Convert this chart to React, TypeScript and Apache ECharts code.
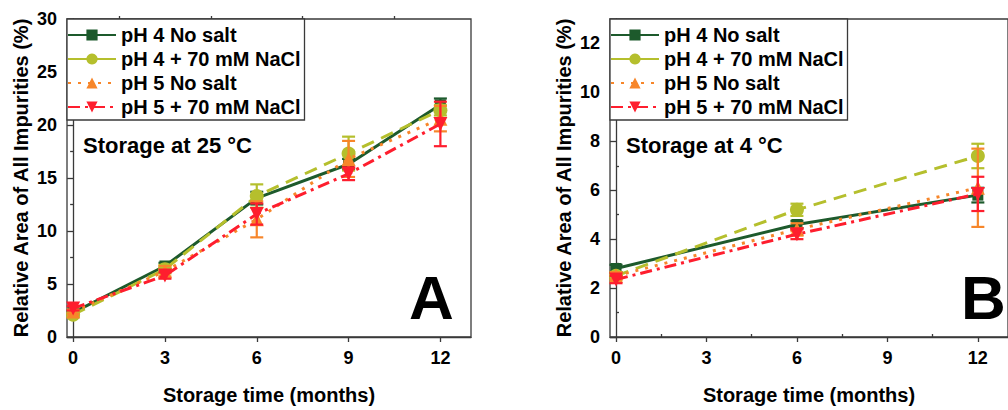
import React, { useEffect, useRef } from "react";
import * as echarts from "echarts";

// ---------- Data ----------
const seriesNames = ["pH 4 No salt", "pH 4 + 70 mM NaCl", "pH 5 No salt", "pH 5 + 70 mM NaCl"];
const colors = ["#1d5a2c", "#b5bf2d", "#f7862a", "#fe1e2e"];

// Panel A: storage at 25 °C
const monthsA = [0, 3, 6, 9, 12];
const pH4NoSaltA = [2.3, 6.7, 13.1, 16.3, 21.9];
const pH4NoSaltErrA = [0.2, 0.3, 0.6, 0.5, 0.6];
const pH4NaClA = [2.1, 6.4, 13.3, 17.3, 21.4];
const pH4NaClErrA = [0.2, 0.4, 1.1, 1.6, 0.5];
const pH5NoSaltA = [2.4, 6.2, 11.1, 16.8, 20.6];
const pH5NoSaltErrA = [0.2, 0.5, 1.7, 1.7, 1.2];
const pH5NaClA = [2.7, 5.8, 11.6, 15.4, 20.1];
const pH5NaClErrA = [0.2, 0.3, 1.0, 0.6, 2.1];

// Panel B: storage at 4 °C
const monthsB = [0, 6, 12];
const pH4NoSaltB = [2.8, 4.6, 5.8];
const pH4NoSaltErrB = [0.15, 0.15, 0.3];
const pH4NaClB = [2.5, 5.2, 7.4];
const pH4NaClErrB = [0.15, 0.25, 0.5];
const pH5NoSaltB = [2.5, 4.4, 6.1];
const pH5NoSaltErrB = [0.15, 0.25, 1.6];
const pH5NaClB = [2.35, 4.2, 5.85];
const pH5NaClErrB = [0.15, 0.2, 0.7];

const xMajorTicks = [0, 3, 6, 9, 12];
const xMinorTicks = [1.5, 4.5, 7.5, 10.5];
const yMajorTicksB = [0, 2, 4, 6, 8, 10, 12];
const yMinorTicksB = [1, 3, 5, 7, 9, 11];

const FONT = "Liberation Sans, Arial, sans-serif";
const AXIS_COLOR = "#3a3a3a";

const invTriangle = "path://M0,0 L10,0 L5,9 Z";
const symbols = ["rect", "circle", "triangle", invTriangle];
const symbolSizes = [11, 14, 14, 14];
const lineTypes: any[] = ["solid", [13, 8], [3, 7], [12, 5, 3, 5]];

export default function App() {
  const ref = useRef<HTMLDivElement>(null);

  useEffect(() => {
    if (!ref.current) return;
    const chart = echarts.init(ref.current, undefined, { renderer: "svg" });

    const panels = [
      {
        months: monthsA,
        vals: [pH4NoSaltA, pH4NaClA, pH5NoSaltA, pH5NaClA],
        errs: [pH4NoSaltErrA, pH4NaClErrA, pH5NoSaltErrA, pH5NaClErrA],
      },
      {
        months: monthsB,
        vals: [pH4NoSaltB, pH4NaClB, pH5NoSaltB, pH5NaClB],
        errs: [pH4NoSaltErrB, pH4NaClErrB, pH5NoSaltErrB, pH5NaClErrB],
      },
    ];

    const series: any[] = [];
    panels.forEach((p, pi) => {
      const xIdx = pi * 2;
      const yIdx = pi === 0 ? 0 : 1;
      p.vals.forEach((vals, si) => {
        const color = colors[si];
        series.push({
          type: "line",
          name: seriesNames[si],
          xAxisIndex: xIdx,
          yAxisIndex: yIdx,
          data: p.months.map((m, i) => [m, vals[i]]),
          symbol: symbols[si],
          symbolSize: symbolSizes[si],
          showAllSymbol: true,
          itemStyle: { color },
          lineStyle: { color, width: 3, type: lineTypes[si] },
          z: 2 + si,
        });
        series.push({
          type: "custom",
          name: "err-" + pi + "-" + si,
          xAxisIndex: xIdx,
          yAxisIndex: yIdx,
          data: p.months.map((m, i) => [m, vals[i], p.errs[si][i]]),
          encode: { x: 0, y: 1 },
          z: 2 + si,
          renderItem: (params: any, api: any) => {
            const x = api.value(0);
            const y = api.value(1);
            const e = api.value(2);
            const top = api.coord([x, y + e]);
            const bot = api.coord([x, y - e]);
            const w = 6.5;
            const st = { stroke: color, lineWidth: 2.2 };
            return {
              type: "group",
              children: [
                { type: "line", shape: { x1: top[0], y1: top[1], x2: bot[0], y2: bot[1] }, style: st },
                { type: "line", shape: { x1: top[0] - w, y1: top[1], x2: top[0] + w, y2: top[1] }, style: st },
                { type: "line", shape: { x1: bot[0] - w, y1: bot[1], x2: bot[0] + w, y2: bot[1] }, style: st },
              ],
            };
          },
        });
      });
    });

    const tickLabel = { color: "#000", fontSize: 18, fontWeight: "bold", fontFamily: FONT };
    const nameStyle = { color: "#000", fontSize: 20, fontWeight: "bold", fontFamily: FONT };
    const axisLine = { show: true, lineStyle: { color: AXIS_COLOR, width: 1.3 } };

    const makeX = (gridIndex: number) => [
      {
        type: "value",
        gridIndex,
        min: -0.2,
        max: 13,
        axisLine,
        axisTick: { show: true, customValues: xMajorTicks, length: 5, lineStyle: { color: AXIS_COLOR, width: 1.3 } },
        axisLabel: { ...tickLabel, customValues: xMajorTicks, margin: 12 },
        splitLine: { show: false },
        name: "Storage time (months)",
        nameLocation: "middle",
        nameGap: 48,
        nameTextStyle: nameStyle,
      },
      {
        type: "value",
        gridIndex,
        min: -0.2,
        max: 13,
        axisLine: { show: false },
        axisTick: { show: true, customValues: xMinorTicks, length: 3, lineStyle: { color: AXIS_COLOR, width: 1.3 } },
        axisLabel: { show: false },
        splitLine: { show: false },
      },
    ];

    const yName = "Relative Area of All Impurities (%)";
    const gridCommon = { show: true, borderColor: AXIS_COLOR, borderWidth: 1.3, backgroundColor: "transparent" };

    const legendCommon = {
      orient: "vertical",
      top: 19,
      itemWidth: 48,
      itemHeight: 14,
      itemGap: 4,
      itemTextGap: 5,
      padding: [6, 4, 3, 0],
      borderColor: AXIS_COLOR,
      borderWidth: 1.3,
      backgroundColor: "#fff",
      textStyle: { color: "#000", fontSize: 20, fontWeight: "bold", fontFamily: FONT },
      data: [
        { name: seriesNames[0] },
        { name: seriesNames[1], lineStyle: { type: "solid" } },
        { name: seriesNames[2] },
        { name: seriesNames[3] },
      ],
      selectedMode: false,
    };

    const option: any = {
      animation: false,
      backgroundColor: "#fff",
      grid: [
        { ...gridCommon, left: 67, top: 19, width: 404, height: 326 },
        { ...gridCommon, left: 610, top: 19, width: 404, height: 326 },
      ],
      xAxis: [...makeX(0), ...makeX(1)],
      yAxis: [
        {
          type: "value",
          gridIndex: 0,
          min: 0,
          max: 30,
          interval: 5,
          axisLine,
          axisTick: { show: true, length: 6, lineStyle: { color: AXIS_COLOR, width: 1.3 } },
          minorTick: { show: true, splitNumber: 2, length: 3, lineStyle: { color: AXIS_COLOR, width: 1.3 } },
          axisLabel: { ...tickLabel, margin: 10 },
          splitLine: { show: false },
          name: yName,
          nameLocation: "middle",
          nameGap: 36,
          nameTextStyle: nameStyle,
        },
        {
          type: "value",
          gridIndex: 1,
          min: 0,
          max: 13,
          axisLine,
          axisTick: { show: true, customValues: yMajorTicksB, length: 6, lineStyle: { color: AXIS_COLOR, width: 1.3 } },
          axisLabel: { ...tickLabel, customValues: yMajorTicksB, margin: 10 },
          splitLine: { show: false },
          name: yName,
          nameLocation: "middle",
          nameGap: 36,
          nameTextStyle: nameStyle,
        },
        {
          type: "value",
          gridIndex: 1,
          min: 0,
          max: 13,
          axisLine: { show: false },
          axisTick: { show: true, customValues: yMinorTicksB, length: 3, lineStyle: { color: AXIS_COLOR, width: 1.3 } },
          axisLabel: { show: false },
          splitLine: { show: false },
        },
      ],
      legend: [
        { ...legendCommon, left: 67 },
        { ...legendCommon, left: 610 },
      ],
      graphic: [
        {
          type: "text",
          left: 83,
          top: 134,
          style: { text: "Storage at 25 °C", fill: "#000", fontSize: 22, fontWeight: "bold", fontFamily: FONT },
        },
        {
          type: "text",
          left: 626,
          top: 134,
          style: { text: "Storage at 4 °C", fill: "#000", fontSize: 22, fontWeight: "bold", fontFamily: FONT },
        },
        {
          type: "text",
          left: 409,
          top: 266,
          style: { text: "A", fill: "#000", fontSize: 62, fontWeight: "bold", fontFamily: FONT },
        },
        {
          type: "text",
          left: 961,
          top: 266,
          style: { text: "B", fill: "#000", fontSize: 62, fontWeight: "bold", fontFamily: FONT },
        },
      ],
      series,
    };

    chart.setOption(option);
    return () => chart.dispose();
  }, []);

  return (
    <div
      ref={ref}
      style={{ position: "fixed", left: 0, top: 0, width: 1008, height: 410, background: "#fff" }}
    />
  );
}
